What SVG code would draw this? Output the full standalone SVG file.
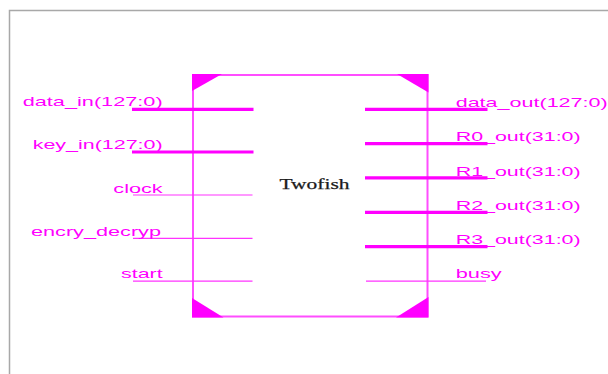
<svg xmlns="http://www.w3.org/2000/svg" width="608" height="374" viewBox="0 0 608 374">
<style>
.frame{fill:none;stroke:#a8a8a8;stroke-width:1.5}
.box{fill:none;stroke:#ff4dff;stroke-width:2}
.corner{fill:#ff00ff}
.bus{stroke:#ff00ff;stroke-width:3.2;fill:none}
.sig{stroke:#ff33ff;stroke-width:1.2;fill:none}
.lbl{font-family:"Liberation Sans",Arial,sans-serif;font-size:13.5px;fill:#ff00ff}
.title{font-family:"Liberation Serif","Times New Roman",serif;font-size:15px;fill:#1a1a1a;stroke:#1a1a1a;stroke-width:0.25}
</style>
<rect width="608" height="374" fill="#ffffff"/>
<path class="frame" d="M9.5,374 V10.5 H608"/>
<g id="twofish">
<rect class="box" x="193" y="75" width="234.5" height="241.5"/>
<polygon class="corner" points="192,74 222,74 192,91"/>
<polygon class="corner" points="397,74 428.5,74 428.5,92.5"/>
<polygon class="corner" points="192,298 192,317.5 223.5,317.5"/>
<polygon class="corner" points="396,317.5 428.5,317.5 428.5,297"/>
<text class="title" x="279.5" y="189" textLength="70" lengthAdjust="spacingAndGlyphs">Twofish</text>
</g>
<g id="connectors">
<line class="bus" x1="132" y1="109.3" x2="253.5" y2="109.3"/>
<line class="bus" x1="132" y1="152" x2="253.5" y2="152"/>
<line class="sig" x1="133" y1="195" x2="252.5" y2="195"/>
<line class="sig" x1="133" y1="238.3" x2="252.5" y2="238.3"/>
<line class="sig" x1="133" y1="281.2" x2="252.5" y2="281.2"/>
<line class="bus" x1="365" y1="109.3" x2="487.5" y2="109.3"/>
<line class="bus" x1="365" y1="143.6" x2="487.5" y2="143.6"/>
<line class="bus" x1="365" y1="177.8" x2="487.5" y2="177.8"/>
<line class="bus" x1="365" y1="212.3" x2="487.5" y2="212.3"/>
<line class="bus" x1="365" y1="246.7" x2="487.5" y2="246.7"/>
<line class="sig" x1="366" y1="281.2" x2="486" y2="281.2"/>
</g>
<g id="port-data_in"><text class="lbl" x="22.7" y="106" textLength="140" lengthAdjust="spacingAndGlyphs">data_in(127:0)</text></g>
<g id="port-key_in"><text class="lbl" x="32.7" y="149.3" textLength="130" lengthAdjust="spacingAndGlyphs">key_in(127:0)</text></g>
<g id="port-clock"><text class="lbl" x="113.3" y="192.5" textLength="49.4" lengthAdjust="spacingAndGlyphs">clock</text></g>
<g id="port-encry_decryp"><text class="lbl" x="31" y="235.5" textLength="130" lengthAdjust="spacingAndGlyphs">encry_decryp</text></g>
<g id="port-start"><text class="lbl" x="121" y="278.3" textLength="41.7" lengthAdjust="spacingAndGlyphs">start</text></g>
<g id="port-data_out"><text class="lbl" x="455.7" y="106.5" textLength="152" lengthAdjust="spacingAndGlyphs">data_out(127:0)</text></g>
<g id="port-R0_out"><text class="lbl" x="455.7" y="141" textLength="125" lengthAdjust="spacingAndGlyphs">R0_out(31:0)</text></g>
<g id="port-R1_out"><text class="lbl" x="455.7" y="175.6" textLength="125" lengthAdjust="spacingAndGlyphs">R1_out(31:0)</text></g>
<g id="port-R2_out"><text class="lbl" x="455.7" y="210" textLength="125" lengthAdjust="spacingAndGlyphs">R2_out(31:0)</text></g>
<g id="port-R3_out"><text class="lbl" x="455.7" y="244.4" textLength="125" lengthAdjust="spacingAndGlyphs">R3_out(31:0)</text></g>
<g id="port-busy"><text class="lbl" x="455.7" y="278.3" textLength="46" lengthAdjust="spacingAndGlyphs">busy</text></g>
</svg>
